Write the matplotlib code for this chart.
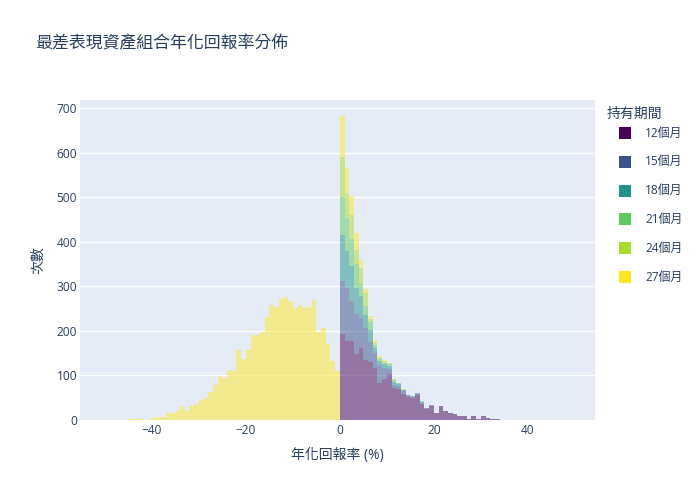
import matplotlib
matplotlib.use("Agg")
import matplotlib.pyplot as plt
from matplotlib.patches import Rectangle
import numpy as np

plt.rcParams['font.family'] = ['Open Sans', 'Noto Sans CJK TC', 'DejaVu Sans']

# bin edges (width 1) for positive side 0..38 and negative side -50..-1
pos_bins = list(range(0, 39))
neg_bins = list(range(-50, 0))

periods = ['12個月', '15個月', '18個月', '21個月', '24個月', '27個月']
colors = ['#440154', '#3b528b', '#21918c', '#5ec962', '#addc30', '#fde725']

# counts per bin, positive side (bins 0..38)
m12 = [193, 177, 177, 148, 161, 134, 130, 117, 83, 92, 103, 71, 69, 59, 51, 49, 55, 35, 24, 32,
       15, 32, 21, 15, 14, 10, 10, 2, 8, 2, 8, 4, 3, 3, 1, 1, 0, 1, 1]
m15 = [119, 119, 90, 89, 68, 73, 45, 33, 41, 25, 12, 8, 7, 5, 4, 3, 4, 4, 2, 1,
       0, 0, 0, 1]
m18 = [104, 84, 78, 60, 49, 29, 28, 12, 8, 8, 7, 7, 4, 3, 2, 2, 2, 2, 1]
m21 = [84, 73, 60, 53, 30, 20, 16, 6, 4, 4, 3, 4, 2, 1, 0, 0, 0, 1]
m24 = [90, 55, 54, 32, 34, 28, 7, 5, 4, 3, 2, 1, 1, 1]
m27_pos = [93, 57, 43, 37, 18, 11, 8, 6, 3, 2, 1, 1]

# 27 month series, negative side (bins -50..-1)
m27_neg = [1, 0, 0, 0, 0, 3, 3, 3, 0, 3, 5, 7, 7, 16, 16, 20, 30, 21, 32, 35,
           44, 50, 63, 78, 98, 94, 112, 109, 158, 136, 158, 190, 190, 197, 231, 257, 254, 272, 276, 266,
           252, 258, 252, 253, 269, 198, 206, 171, 132, 109]

series = [m12, m15, m18, m21, m24, m27_pos]

text_color = '#2a3f5f'
W, H = 700, 500

fig = plt.figure(figsize=(7, 5), dpi=100)
ax = fig.add_axes([80 / W, 80 / H, 515 / W, 320 / H])
ax.set_facecolor('#e5ecf6')

bottom = np.zeros(len(pos_bins))
for vals, c in zip(series, colors):
    v = np.zeros(len(pos_bins))
    v[:len(vals)] = vals
    ax.bar(pos_bins, v, width=1, align='edge', bottom=bottom, color=c, alpha=0.5, linewidth=0)
    bottom += v

ax.bar(neg_bins, m27_neg, width=1, align='edge', color=colors[-1], alpha=0.5, linewidth=0)

ax.set_xlim(-55.3, 54.3)
ax.set_ylim(0, 718)
ax.set_xticks([-40, -20, 0, 20, 40])
ax.set_xticklabels(['\u221240', '\u221220', '0', '20', '40'])
ax.set_yticks(range(0, 701, 100))
ax.grid(axis='y', color='white', linewidth=1)
ax.set_axisbelow(True)
for s in ax.spines.values():
    s.set_visible(False)
ax.tick_params(axis='y', length=0, labelsize=8.6, labelcolor=text_color, pad=2)
ax.tick_params(axis='x', length=0, labelsize=8.6, labelcolor=text_color, pad=3)

ax.set_xlabel('年化回報率 (%)', fontsize=10, color=text_color, labelpad=8)
ax.set_ylabel('次數', fontsize=10, color=text_color, labelpad=8)

fig.text(35 / W, 1 - 44 / H, '最差表現資產組合年化回報率分佈', fontsize=12.2,
         color=text_color, va='center')

# legend drawn by hand to match placement
fig.text(607 / W, 1 - 114 / H, '持有期間', fontsize=10, color=text_color, va='center')
for i, (lab, c) in enumerate(zip(periods, colors)):
    yc = 133 + i * 28.8
    fig.patches.append(Rectangle((619 / W, 1 - (yc + 6) / H), 12 / W, 12 / H,
                                 transform=fig.transFigure, facecolor=c, edgecolor='none'))
    fig.text(645 / W, 1 - yc / H, lab, fontsize=8.6, color=text_color, va='center')

fig.savefig('out.png', dpi=100)
